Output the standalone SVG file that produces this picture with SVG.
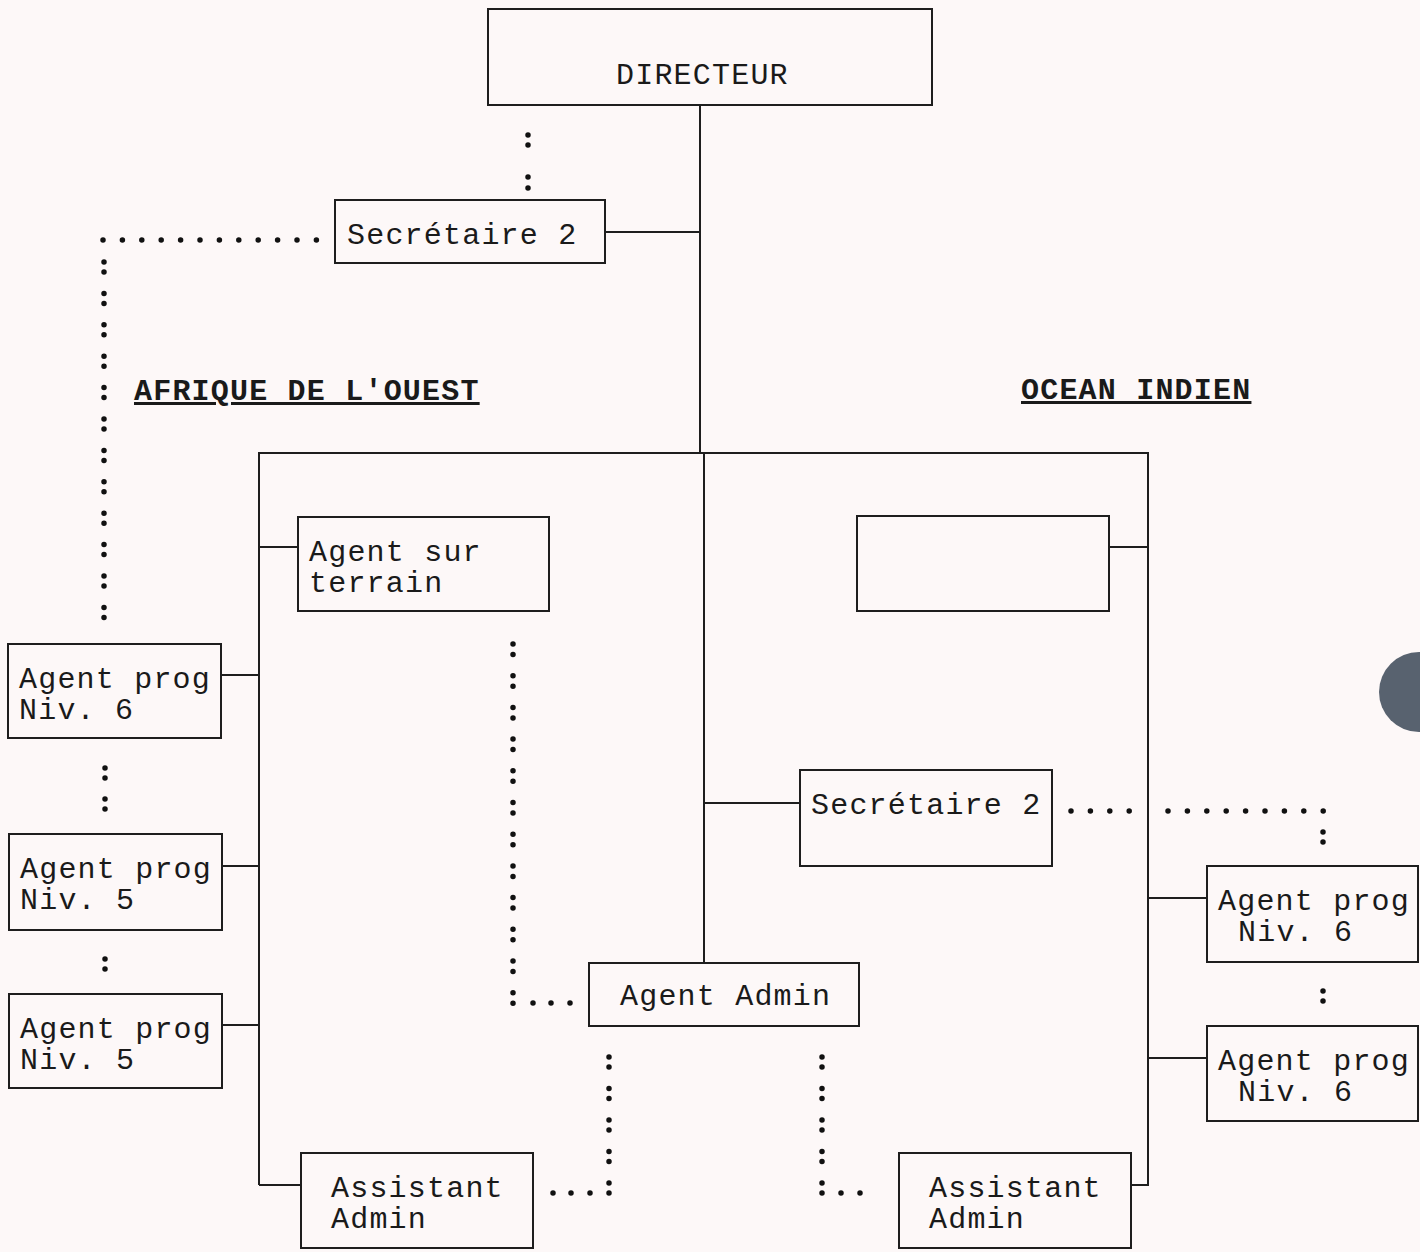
<svg xmlns="http://www.w3.org/2000/svg" width="1420" height="1252" viewBox="0 0 1420 1252">
<style>
.box{fill:none;stroke:#1e1e1e;stroke-width:2}
.ln{fill:none;stroke:#1e1e1e;stroke-width:2}
.dots{fill:none;stroke:#111;stroke-width:5.5;stroke-linecap:round}
.t{font-family:"Liberation Mono","DejaVu Sans Mono",monospace;font-size:30px;letter-spacing:1.2px;fill:#1a1a1a}
.h{font-family:"Liberation Mono","DejaVu Sans Mono",monospace;font-size:30px;letter-spacing:1.2px;font-weight:bold;fill:#1a1a1a;text-decoration:underline}
</style>
<rect x="0" y="0" width="1420" height="1252" fill="#fdf8f8"/>
<circle cx="1419" cy="692" r="40" fill="#58626f"/>

<g id="connectors">
  <path class="ln" d="M700 105 V453"/>
  <path class="ln" d="M704 453 V963"/>
  <path class="ln" d="M605 232 H700"/>
  <path class="ln" d="M259 1185 V453 H1148 V1185 H1131"/>
  <path class="ln" d="M259 1185 H301"/>
  <path class="ln" d="M259 547 H298"/>
  <path class="ln" d="M221 675 H259"/>
  <path class="ln" d="M222 866 H259"/>
  <path class="ln" d="M222 1025 H259"/>
  <path class="ln" d="M1109 547 H1148"/>
  <path class="ln" d="M1148 898 H1207"/>
  <path class="ln" d="M1148 1058 H1207"/>
  <path class="ln" d="M704 803 H800"/>
  <path class="dots" d="M528 135 v0 M528 145 v0 M528 177 v0 M528 188 v0"/>
  <path class="dots" d="M103 240 H318" stroke-dasharray="0 19.4"/>
  <path class="dots" d="M104 262 V619" stroke-dasharray="0 10 0 21.4"/>
  <path class="dots" d="M105 768 v0 M105 778 v0 M105 799 v0 M105 809 v0 M105 959 v0 M105 969 v0"/>
  <path class="dots" d="M513 644 V1004" stroke-dasharray="0 10.5 0 21.2"/>
  <path class="dots" d="M533 1003 v0 M551 1003 v0 M570 1003 v0"/>
  <path class="dots" d="M609 1057 V1194" stroke-dasharray="0 10 0 21.5"/>
  <path class="dots" d="M553 1193 v0 M571 1193 v0 M590 1193 v0"/>
  <path class="dots" d="M822 1057 V1194" stroke-dasharray="0 10 0 21.5"/>
  <path class="dots" d="M841 1193 v0 M860 1193 v0"/>
  <path class="dots" d="M1071 811 H1130" stroke-dasharray="0 19.4"/>
  <path class="dots" d="M1168 811 H1324" stroke-dasharray="0 19.4"/>
  <path class="dots" d="M1323 832 v0 M1323 842 v0 M1323 991 v0 M1323 1001 v0"/>
</g>

<g id="labels">
  <text class="h" x="134" y="400">AFRIQUE DE L'OUEST</text>
  <text class="h" x="1021" y="399">OCEAN INDIEN</text>
</g>

<g id="directeur"><rect class="box" x="488" y="9" width="444" height="96"/><text class="t" x="616" y="84">DIRECTEUR</text></g>
<g id="secretaire-top"><rect class="box" x="335" y="200" width="270" height="63"/><text class="t" x="347" y="244">Secrétaire 2</text></g>
<g id="agent-terrain"><rect class="box" x="298" y="517" width="251" height="94"/><text class="t" x="309" y="561">Agent sur</text><text class="t" x="309" y="592">terrain</text></g>
<g id="empty-box"><rect class="box" x="857" y="516" width="252" height="95"/></g>
<g id="agent-prog-w6"><rect class="box" x="8" y="644" width="213" height="94"/><text class="t" x="19" y="688">Agent prog</text><text class="t" x="19" y="719">Niv. 6</text></g>
<g id="agent-prog-w5a"><rect class="box" x="9" y="834" width="213" height="96"/><text class="t" x="20" y="878">Agent prog</text><text class="t" x="20" y="909">Niv. 5</text></g>
<g id="agent-prog-w5b"><rect class="box" x="9" y="994" width="213" height="94"/><text class="t" x="20" y="1038">Agent prog</text><text class="t" x="20" y="1069">Niv. 5</text></g>
<g id="secretaire-center"><rect class="box" x="800" y="770" width="252" height="96"/><text class="t" x="811" y="814">Secrétaire 2</text></g>
<g id="agent-admin"><rect class="box" x="589" y="963" width="270" height="63"/><text class="t" x="620" y="1005">Agent Admin</text></g>
<g id="agent-prog-e6a"><rect class="box" x="1207" y="866" width="211" height="96"/><text class="t" x="1218" y="910">Agent prog</text><text class="t" x="1238" y="941">Niv. 6</text></g>
<g id="agent-prog-e6b"><rect class="box" x="1207" y="1026" width="211" height="95"/><text class="t" x="1218" y="1070">Agent prog</text><text class="t" x="1238" y="1101">Niv. 6</text></g>
<g id="assistant-west"><rect class="box" x="301" y="1153" width="232" height="95"/><text class="t" x="331" y="1197">Assistant</text><text class="t" x="331" y="1228">Admin</text></g>
<g id="assistant-east"><rect class="box" x="899" y="1153" width="232" height="95"/><text class="t" x="929" y="1197">Assistant</text><text class="t" x="929" y="1228">Admin</text></g>
</svg>
